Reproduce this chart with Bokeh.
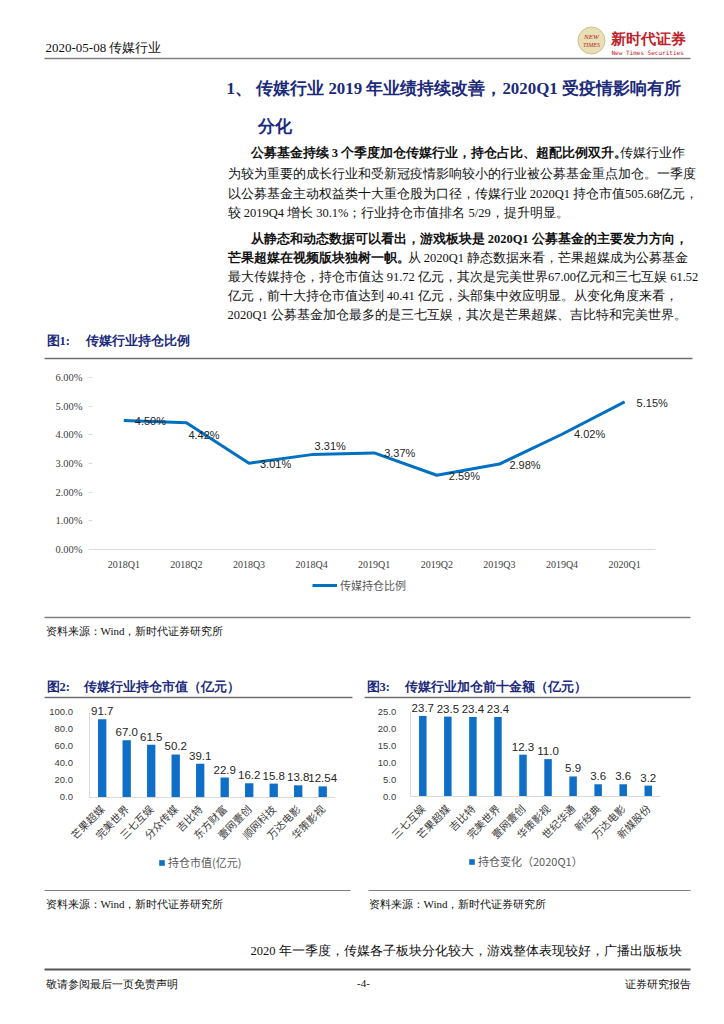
from math import pi
from bokeh.plotting import figure
from bokeh.models import (Range1d, ColumnDataSource, LabelSet, LinearAxis,
                          FixedTicker, PrintfTickFormatter, Legend, LegendItem)
from bokeh.core.properties import value
from bokeh.embed import file_html
from bokeh.resources import INLINE

# ---------------- data ----------------
quarters = ["2018Q1", "2018Q2", "2018Q3", "2018Q4", "2019Q1",
            "2019Q2", "2019Q3", "2019Q4", "2020Q1"]
share_pct = [4.50, 4.42, 3.01, 3.31, 3.37, 2.59, 2.98, 4.02, 5.15]
share_name = "传媒持仓比例"

hold_names = ["芒果超媒", "完美世界", "三七互娱", "分众传媒", "吉比特",
              "东方财富", "壹网壹创", "顺网科技", "万达电影", "华策影视"]
hold_vals = [91.7, 67.0, 61.5, 50.2, 39.1, 22.9, 16.2, 15.8, 13.8, 12.54]
hold_text = ["91.7", "67.0", "61.5", "50.2", "39.1", "22.9", "16.2", "15.8", "13.8", "12.54"]
hold_series = "持仓市值(亿元)"

add_names = ["三七互娱", "芒果超媒", "吉比特", "完美世界", "壹网壹创",
             "华策影视", "世纪华通", "新经典", "万达电影", "新媒股份"]
add_vals = [23.7, 23.5, 23.4, 23.4, 12.3, 11.0, 5.9, 3.6, 3.6, 3.2]
add_text = ["23.7", "23.5", "23.4", "23.4", "12.3", "11.0", "5.9", "3.6", "3.6", "3.2"]
add_series = "持仓变化（2020Q1）"

y1_ticks = [0, 1, 2, 3, 4, 5, 6]
y2_ticks = [0, 20, 40, 60, 80, 100]
y3_ticks = [0, 5, 10, 15, 20, 25]

# label offsets (style) for chart 1
lab_dx = [11, 2, 11, 3, 10, 12, 10, 12, 12]
lab_dy = [0, -12, -1, 9, 0, -1, -1, 0, -1]

SERIF = "Liberation Serif"
SANS = "Liberation Sans"
CJK = "Noto Sans CJK SC"
NAVY = "#1B2A7A"
BLUE = "#0F6FC6"
GREY = "#7F7F7F"

PW, PH = 724, 1024

p = figure(width=PW, height=PH, x_range=Range1d(0, PW), y_range=Range1d(PH, 0),
           output_backend="svg", toolbar_location=None, min_border=0,
           x_axis_type=None, y_axis_type=None, outline_line_color=None)
p.grid.visible = False


def xmap(px0, step):
    # value 0 sits at page pixel px0, one unit = step pixels
    return Range1d(-px0 / step, (PW - px0) / step)


def ymap(v0, py0, v1, py1):
    s = (py0 - py1) / (v1 - v0)
    return Range1d(v0 - (PH - py0) / s, v0 + py0 / s)


p.extra_x_ranges = {"c1x": xmap(123.3, 62.6), "c2x": xmap(101.7, 24.5),
                    "c3x": xmap(422.3, 25.05)}
p.extra_y_ranges = {"c1y": ymap(0, 549, 6, 377), "c2y": ymap(0, 796.5, 100, 711.7),
                    "c3y": ymap(0, 796, 25, 711)}


def put(x, y, s, size="12.5px", font=SERIF, bold=False, color="#111111",
        align="left", italic=False):
    style = "bold" if bold else "normal"
    if italic:
        style = "bold italic" if bold else "italic"
    p.text(x=[x], y=[y], text=[s], text_font=value(font),
           text_font_size=size, text_font_style=style, text_color=color,
           text_align=align, text_baseline="middle")


def rule(x0, x1, y, color=GREY, w=1.5):
    p.segment(x0=[x0], y0=[y], x1=[x1], y1=[y], line_color=color, line_width=w)


# ---------------- page text ----------------
put(45, 47, "2020-05-08 传媒行业", size="13px")
rule(44, 690, 58, color="#808080", w=1.5)
p.scatter(x=[591], y=[40], marker="circle", size=27,
          fill_color="#E8E0B4", line_color="#CFC38A", line_width=1)
put(591, 36, "NEW", size="7px", color="#B5202A", align="center", italic=True)
put(591, 44, "TIMES", size="6px", color="#B5202A", align="center", italic=True)
put(610, 38, "新时代证券", size="15px", bold=True, color="#C0232C")
put(611, 52, "New Times Securities", size="6px", font="DejaVu Sans Mono", color="#C0232C")

put(226, 88, "1、 传媒行业 2019 年业绩持续改善，2020Q1 受疫情影响有所",
    size="16.9px", bold=True, color=NAVY)
put(257, 126, "分化", size="16.9px", bold=True, color=NAVY)

put(250, 152, "公募基金持续 3 个季度加仓传媒行业，持仓占比、超配比例双升。", bold=True)
put(619, 152, "传媒行业作")
put(227, 173, "为较为重要的成长行业和受新冠疫情影响较小的行业被公募基金重点加仓。一季度")
put(227, 193, "以公募基金主动权益类十大重仓股为口径，传媒行业 2020Q1 持仓市值505.68亿元，")
put(227, 212, "较 2019Q4 增长 30.1%；行业持仓市值排名 5/29，提升明显。")

put(250, 238, "从静态和动态数据可以看出，游戏板块是 2020Q1 公募基金的主要发力方向，", bold=True)
put(227, 257, "芒果超媒在视频版块独树一帜。", bold=True)
put(407, 257, "从 2020Q1 静态数据来看，芒果超媒成为公募基金")
put(227, 276, "最大传媒持仓，持仓市值达 91.72 亿元，其次是完美世界67.00亿元和三七互娱 61.52")
put(227, 295, "亿元，前十大持仓市值达到 40.41 亿元，头部集中效应明显。从变化角度来看，")
put(227, 314, "2020Q1 公募基金加仓最多的是三七互娱，其次是芒果超媒、吉比特和完美世界。")

put(46, 340, "图1:", size="12.5px", bold=True, color=NAVY)
put(85, 340, "传媒行业持仓比例", size="12.5px", bold=True, color=NAVY)
rule(44, 692, 358, color="#6F6F6F", w=1.5)
rule(44, 690, 617, color="#7F7F7F", w=1.5)
put(45, 630, "资料来源：Wind，新时代证券研究所", size="11px")

put(46, 686, "图2:", size="12.5px", bold=True, color=NAVY)
put(83, 686, "传媒行业持仓市值（亿元）", size="12.5px", bold=True, color=NAVY)
put(366, 686, "图3:", size="12.5px", bold=True, color=NAVY)
put(404, 686, "传媒行业加仓前十金额（亿元）", size="12.5px", bold=True, color=NAVY)
rule(44, 352, 697, color="#6F6F6F", w=1.5)
rule(364, 690, 697, color="#6F6F6F", w=1.5)

rule(44, 350, 890, color="#7F7F7F", w=1.2)
rule(368, 690, 890, color="#7F7F7F", w=1.2)
put(45, 903, "资料来源：Wind，新时代证券研究所", size="11px")
put(368, 903, "资料来源：Wind，新时代证券研究所", size="11px")
put(250, 950, "2020 年一季度，传媒各子板块分化较大，游戏整体表现较好，广播出版板块")
rule(44, 690, 969, color="#555555", w=2)
put(45, 983, "敬请参阅最后一页免责声明", size="11px")
put(363, 983, "-4-", size="11px", align="center")
put(690, 983, "证券研究报告", size="11px", align="right")


# ---------------- axes helper ----------------
def axes(xr, yr, xticks, xlabels, yticks, yfmt, xbounds, ybounds, xfont, xsize,
         xorient, xstand, yfont, ysize, ystand, yline, ytick):
    xa = LinearAxis(x_range_name=xr, y_range_name=yr, fixed_location=0,
                    ticker=FixedTicker(ticks=xticks),
                    major_label_overrides={i: s for i, s in zip(xticks, xlabels)},
                    bounds=xbounds, axis_line_color="#D9D9D9",
                    major_tick_line_color=None, minor_tick_line_color=None,
                    major_label_orientation=xorient, major_label_standoff=xstand,
                    major_label_text_font=xfont, major_label_text_font_size=xsize,
                    major_label_text_color="#404040")
    p.add_layout(xa, "below")
    ya = LinearAxis(x_range_name=xr, y_range_name=yr, fixed_location=xbounds[0],
                    ticker=FixedTicker(ticks=yticks),
                    formatter=PrintfTickFormatter(format=yfmt),
                    bounds=ybounds, axis_line_color=yline,
                    major_tick_line_color=ytick, major_tick_in=0, major_tick_out=4,
                    minor_tick_line_color=None, major_label_standoff=ystand,
                    major_label_text_font=yfont, major_label_text_font_size=ysize,
                    major_label_text_color="#404040")
    p.add_layout(ya, "left")


def legend(r, label, x, y, gw, gh, size):
    lg = Legend(items=[LegendItem(label=value(label), renderers=[r])],
                location=(x, PH - y), background_fill_alpha=0,
                border_line_color=None, padding=0, margin=0,
                glyph_width=gw, glyph_height=gh, label_height=12,
                label_standoff=3, label_text_font=CJK,
                label_text_font_size=size, label_text_color="#595959")
    p.add_layout(lg)


# ---------------- chart 1 ----------------
idx1 = list(range(len(quarters)))
src1 = ColumnDataSource(dict(i=idx1, v=share_pct,
                             lab=[f"{v:.2f}%" for v in share_pct],
                             dx=lab_dx, dy=lab_dy))
axes("c1x", "c1y", idx1, quarters, y1_ticks, "%.2f%%", (-0.5, len(idx1) - 0.5),
     (0, 6), SERIF, "10px", "horizontal", 3, SERIF, "10.5px", 6, None, "#D9D9D9")
r1 = p.line(x="i", y="v", source=src1, line_color="#0070C0", line_width=3,
            x_range_name="c1x", y_range_name="c1y")
p.add_layout(LabelSet(x="i", y="v", text="lab", source=src1, x_offset="dx",
                      y_offset="dy", text_align="left", text_baseline="middle",
                      text_font=value(SANS), text_font_size="11px",
                      text_color="#262626", x_range_name="c1x", y_range_name="c1y"))
legend(r1, share_name, 312, 593, 25, 12, "11px")


# ---------------- bar charts ----------------
def bars(names, vals, texts, series, xr, yr, yticks, ymax, bw, ystand, lx, ly):
    idx = list(range(len(names)))
    src = ColumnDataSource(dict(i=idx, v=vals, t=texts))
    axes(xr, yr, idx, names, yticks, "%.1f", (-0.5, len(idx) - 0.5), (0, ymax),
         CJK, "10.5px", pi / 4, 4, SANS, "9.5px", ystand, "#D9D9D9", None)
    r = p.vbar(x="i", top="v", width=bw, source=src, fill_color=BLUE,
               line_color=None, x_range_name=xr, y_range_name=yr)
    p.add_layout(LabelSet(x="i", y="v", text="t", source=src, y_offset=4,
                          text_align="center", text_baseline="bottom",
                          text_font=value(SANS), text_font_size="11.5px",
                          text_color="#262626", x_range_name=xr, y_range_name=yr))
    legend(r, series, lx, ly, 7, 7, "11px")


bars(hold_names, hold_vals, hold_text, hold_series, "c2x", "c2y", y2_ticks, 100,
     0.34, 13, 158, 870)
bars(add_names, add_vals, add_text, add_series, "c3x", "c3y", y3_ticks, 25,
     0.30, 10, 468, 869)

open("out.html", "w").write(file_html(p, INLINE))
